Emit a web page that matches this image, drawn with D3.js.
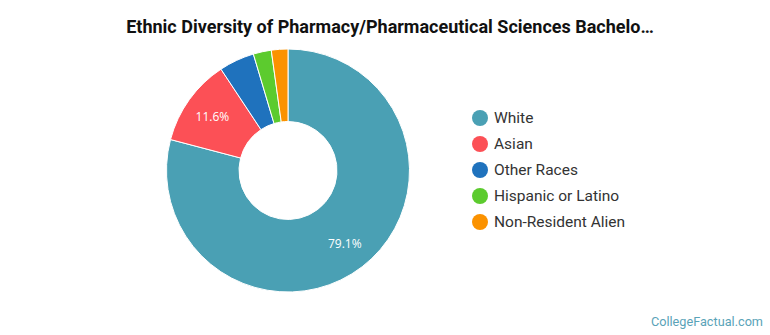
<!DOCTYPE html>
<html lang="en">
<head>
  <meta charset="UTF-8">
  <title>Ethnic Diversity of Pharmacy/Pharmaceutical Sciences Bachelors</title>
  <script src="https://d3js.org/d3.v7.min.js"></script>
  <style>
    body { margin: 0; background: #fff; }
  </style>
</head>
<body>
<svg id="chart" width="770" height="335"></svg>

<script>
const categories = ["White", "Asian", "Other Races", "Hispanic or Latino", "Non-Resident Alien"];
const shares = [79.1, 11.6, 4.7, 2.4, 2.2];
const colors = ["#4aa0b4", "#fc5056", "#1f72bd", "#5ccb2e", "#fb9200"];

const svg = d3.select("#chart");
const width = +svg.attr("width");
const height = +svg.attr("height");

const cx = 288, cy = 170.5;
const outerR = 121.5, innerR = 49;

svg.append("text")
  .attr("x", 390)
  .attr("y", 33)
  .attr("text-anchor", "middle")
  .style("font-family", "Roboto, sans-serif")
  .style("font-weight", "bold")
  .style("font-size", "18px")
  .style("fill", "#111")
  .text("Ethnic Diversity of Pharmacy/Pharmaceutical Sciences Bachelo…");

const data = categories.map((c, i) => ({ name: c, value: shares[i], color: colors[i] }));

const pie = d3.pie().value(d => d.value).sort(null);
const arc = d3.arc().innerRadius(innerR).outerRadius(outerR);
const labelArc = d3.arc().innerRadius(93).outerRadius(93);

const g = svg.append("g").attr("transform", `translate(${cx},${cy})`);

const arcs = pie(data);

g.selectAll("path")
  .data(arcs)
  .join("path")
  .attr("d", arc)
  .attr("fill", d => d.data.color)
  .attr("stroke", "#fff")
  .attr("stroke-width", 1);

// only the big slices carry a label
g.selectAll("text.pct")
  .data(arcs.filter(d => d.data.value > 10))
  .join("text")
  .attr("class", "pct")
  .attr("transform", d => `translate(${labelArc.centroid(d)})`)
  .attr("text-anchor", "middle")
  .attr("dy", "0.35em")
  .style("font-family", "'Open Sans', sans-serif")
  .style("font-size", "12px")
  .style("fill", "#fff")
  .text(d => d.data.value.toFixed(1) + "%");

const legend = svg.append("g").attr("transform", "translate(480,118)");

const rows = legend.selectAll("g")
  .data(data)
  .join("g")
  .attr("transform", (d, i) => `translate(0,${i * 26})`);

rows.append("circle")
  .attr("r", 8)
  .attr("fill", d => d.color);

rows.append("text")
  .attr("x", 14)
  .attr("dy", "0.35em")
  .style("font-family", "Roboto, sans-serif")
  .style("font-size", "15.5px")
  .style("fill", "#333")
  .text(d => d.name);

svg.append("text")
  .attr("x", 763)
  .attr("y", 326)
  .attr("text-anchor", "end")
  .style("font-family", "Roboto, sans-serif")
  .style("font-size", "12.7px")
  .style("fill", "#5aa3b8")
  .text("CollegeFactual.com");
</script>
</body>
</html>
